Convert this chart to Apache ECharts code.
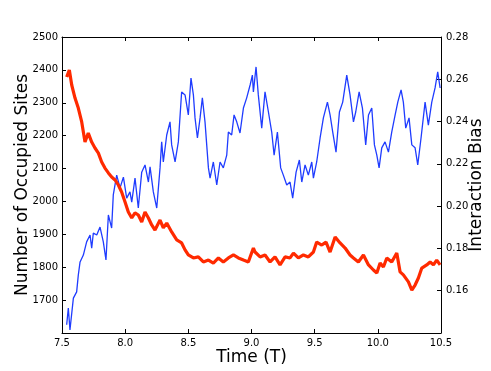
<!DOCTYPE html>
<html>
<head>
<meta charset="utf-8">
<script src="https://cdn.jsdelivr.net/npm/echarts@6/dist/echarts.min.js"></script>
<style>
  html, body { margin: 0; padding: 0; background: #fff; }
  #chart { width: 491px; height: 371px; }
</style>
</head>
<body>
<div id="chart"></div>
<script>
// occupied sites (left axis)
const sitesTime = [
  7.537, 7.550, 7.563, 7.590, 7.616, 7.629, 7.643, 7.669, 7.695, 7.722,
  7.735, 7.748, 7.775, 7.801, 7.827, 7.848, 7.867, 7.893, 7.906, 7.933,
  7.959, 7.986, 8.012, 8.038, 8.052, 8.078, 8.104, 8.131, 8.157, 8.184,
  8.197, 8.223, 8.250, 8.257, 8.276, 8.289, 8.302, 8.329, 8.355, 8.368,
  8.395, 8.421, 8.447, 8.474, 8.500, 8.521, 8.540, 8.553, 8.572, 8.593,
  8.611, 8.632, 8.659, 8.672, 8.698, 8.725, 8.751, 8.777, 8.804, 8.817,
  8.843, 8.862, 8.883, 8.909, 8.936, 8.962, 8.989, 9.007, 9.015, 9.036,
  9.054, 9.081, 9.107, 9.134, 9.160, 9.179, 9.205, 9.231, 9.252, 9.279,
  9.305, 9.326, 9.353, 9.379, 9.398, 9.424, 9.450, 9.477, 9.490, 9.516,
  9.543, 9.569, 9.601, 9.622, 9.643, 9.669, 9.696, 9.722, 9.754, 9.780,
  9.807, 9.825, 9.852, 9.878, 9.904, 9.926, 9.952, 9.973, 9.992, 10.010,
  10.031, 10.057, 10.084, 10.110, 10.137, 10.158, 10.184, 10.202, 10.221, 10.247,
  10.269, 10.295, 10.316, 10.342, 10.374, 10.400, 10.427, 10.453, 10.474, 10.493
];
const sitesValues = [
  1625, 1676, 1609, 1706, 1725, 1776, 1816, 1837, 1877, 1898,
  1858, 1904, 1898, 1922, 1877, 1822, 1959, 1919, 2020, 2080,
  2041, 2074, 2010, 2029, 1998, 2071, 1980, 2089, 2111, 2059,
  2105, 2029, 1980, 1980, 2102, 2181, 2120, 2202, 2242, 2172,
  2120, 2181, 2333, 2324, 2263, 2375, 2324, 2254, 2193, 2254,
  2315, 2242, 2102, 2071, 2120, 2050, 2120, 2102, 2141, 2211,
  2202, 2263, 2242, 2208, 2284, 2315, 2354, 2384, 2333, 2409,
  2324, 2223, 2333, 2272, 2211, 2141, 2211, 2102, 2080, 2050,
  2059, 2010, 2089, 2126, 2059, 2111, 2080, 2120, 2071, 2120,
  2193, 2254, 2302, 2263, 2211, 2150, 2272, 2302, 2384, 2324,
  2242, 2272, 2333, 2284, 2172, 2263, 2284, 2172, 2141, 2102,
  2163, 2181, 2150, 2211, 2263, 2302, 2339, 2302, 2223, 2254,
  2172, 2163, 2111, 2193, 2302, 2232, 2302, 2345, 2394, 2345
];

// interaction bias (right axis)
const biasTime = [
  7.537, 7.558, 7.577, 7.603, 7.629, 7.656, 7.682, 7.708, 7.735, 7.761,
  7.788, 7.814, 7.840, 7.867, 7.893, 7.920, 7.946, 7.972, 7.999, 8.025,
  8.052, 8.078, 8.104, 8.131, 8.157, 8.184, 8.210, 8.236, 8.276, 8.302,
  8.329, 8.368, 8.408, 8.447, 8.474, 8.500, 8.540, 8.579, 8.619, 8.659,
  8.698, 8.738, 8.777, 8.817, 8.857, 8.896, 8.936, 8.975, 9.015, 9.028,
  9.068, 9.107, 9.147, 9.186, 9.226, 9.266, 9.305, 9.332, 9.371, 9.411,
  9.450, 9.490, 9.516, 9.556, 9.590, 9.622, 9.662, 9.701, 9.741, 9.780,
  9.807, 9.846, 9.886, 9.926, 9.965, 9.992, 10.018, 10.044, 10.071, 10.110,
  10.150, 10.176, 10.202, 10.242, 10.269, 10.295, 10.321, 10.348, 10.387, 10.414,
  10.440, 10.466, 10.493
];
const biasValues = [
  0.2611, 0.2644, 0.2573, 0.2511, 0.2464, 0.2398, 0.2303, 0.2346, 0.2303, 0.2275,
  0.2251, 0.2209, 0.2180, 0.2157, 0.2138, 0.2124, 0.2100, 0.2067, 0.2020, 0.1972,
  0.1944, 0.1968, 0.1958, 0.1925, 0.1972, 0.1944, 0.1911, 0.1887, 0.1934, 0.1897,
  0.1920, 0.1878, 0.1840, 0.1826, 0.1793, 0.1769, 0.1755, 0.1760, 0.1736, 0.1745,
  0.1731, 0.1755, 0.1736, 0.1755, 0.1769, 0.1755, 0.1745, 0.1736, 0.1802, 0.1783,
  0.1760, 0.1769, 0.1736, 0.1760, 0.1722, 0.1760, 0.1755, 0.1778, 0.1755, 0.1769,
  0.1760, 0.1783, 0.1830, 0.1816, 0.1830, 0.1783, 0.1854, 0.1826, 0.1802, 0.1769,
  0.1755, 0.1736, 0.1769, 0.1722, 0.1698, 0.1684, 0.1731, 0.1712, 0.1755, 0.1736,
  0.1778, 0.1689, 0.1675, 0.1642, 0.1603, 0.1627, 0.1660, 0.1707, 0.1722, 0.1736,
  0.1722, 0.1745, 0.1722
];

const font = 'DejaVu Sans';
const chart = echarts.init(document.getElementById('chart'), null, { renderer: 'canvas' });

const frameLine = { show: true, lineStyle: { color: '#000', width: 1 } };
const innerTicks = { show: true, inside: true, length: 4, lineStyle: { color: '#000', width: 1 } };
const nameStyle = { fontFamily: font, fontSize: 17, color: '#000' };
const tickFont = { fontFamily: font, fontSize: 10, color: '#000' };

chart.setOption({
  animation: false,
  backgroundColor: '#fff',
  grid: { left: 62, right: 50, top: 37, bottom: 38, containLabel: false, outerBoundsMode: 'none' },
  xAxis: [
    {
      type: 'value',
      min: 7.5,
      max: 10.5,
      interval: 0.5,
      name: 'Time (T)',
      nameLocation: 'middle',
      nameGap: 16,
      nameMoveOverlap: false,
      nameTextStyle: nameStyle,
      axisLine: frameLine,
      axisTick: innerTicks,
      splitLine: { show: false },
      axisLabel: Object.assign({ margin: 5, formatter: (v) => v.toFixed(1) }, tickFont),
    },
    {
      type: 'value',
      position: 'top',
      min: 7.5,
      max: 10.5,
      interval: 0.5,
      axisLine: frameLine,
      axisTick: innerTicks,
      splitLine: { show: false },
      axisLabel: { show: false },
    },
  ],
  yAxis: [
    {
      type: 'value',
      min: 1600,
      max: 2500,
      interval: 100,
      name: 'Number of Occupied Sites',
      nameLocation: 'middle',
      nameGap: 31,
      nameMoveOverlap: false,
      nameTextStyle: nameStyle,
      axisLine: frameLine,
      axisTick: innerTicks,
      splitLine: { show: false },
      axisLabel: Object.assign({
        margin: 4,
        formatter: (v) => (v === 1600 ? '' : String(v)),
      }, tickFont),
    },
    {
      type: 'value',
      position: 'right',
      min: 0.14,
      max: 0.28,
      interval: 0.02,
      name: 'Interaction Bias',
      nameLocation: 'middle',
      nameRotate: 90,
      nameGap: 27,
      nameMoveOverlap: false,
      nameTextStyle: nameStyle,
      axisLine: frameLine,
      axisTick: innerTicks,
      splitLine: { show: false },
      axisLabel: Object.assign({
        margin: 5,
        formatter: (v) => (Math.abs(v - 0.14) < 1e-6 ? '' : v.toFixed(2)),
      }, tickFont),
    },
  ],
  series: [
    {
      name: 'Occupied Sites',
      type: 'line',
      xAxisIndex: 0,
      yAxisIndex: 0,
      data: sitesTime.map((t, i) => [t, sitesValues[i]]),
      showSymbol: false,
      lineStyle: { color: '#1f3cff', width: 1.3 },
      z: 2,
    },
    {
      name: 'Interaction Bias',
      type: 'line',
      xAxisIndex: 0,
      yAxisIndex: 1,
      data: biasTime.map((t, i) => [t, biasValues[i]]),
      showSymbol: false,
      lineStyle: { color: '#ff2a00', width: 3.2 },
      z: 3,
    },
  ],
});
</script>
</body>
</html>
